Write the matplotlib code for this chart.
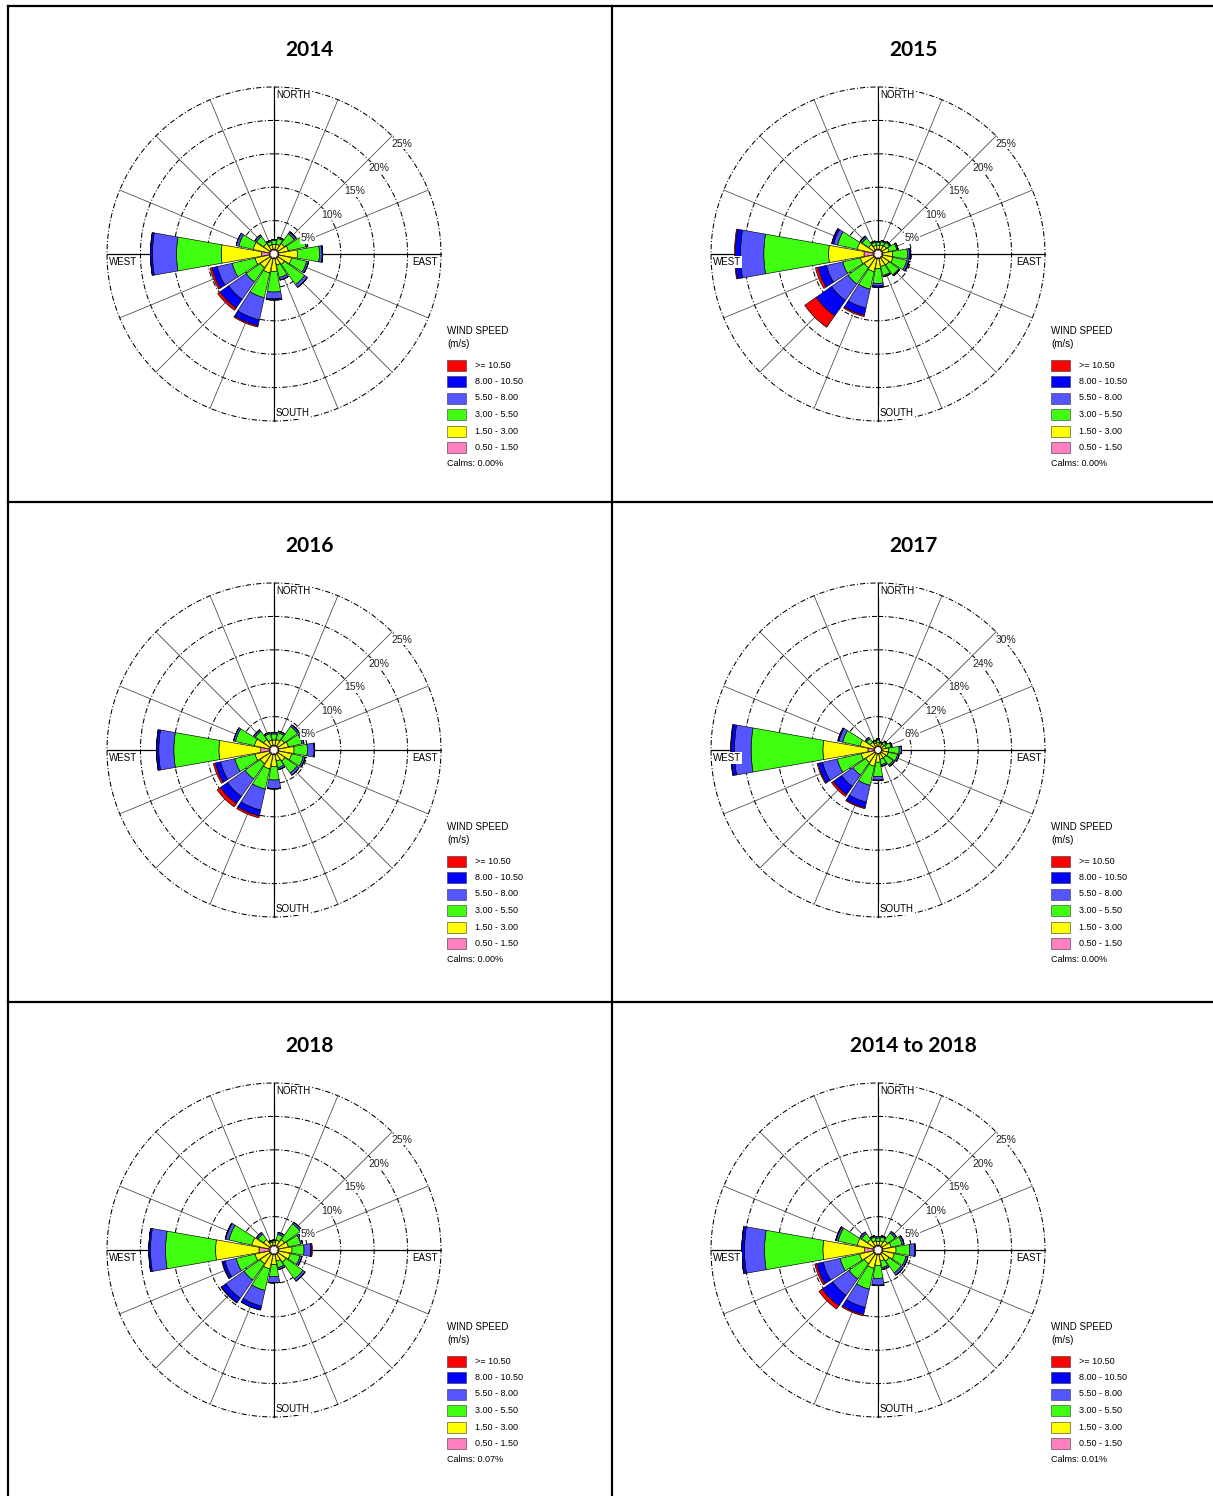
import numpy as np
import matplotlib
matplotlib.use('Agg')
import matplotlib.pyplot as plt
from matplotlib.lines import Line2D
from matplotlib.patches import Rectangle

W, H = 1213, 1496

directions = ['N', 'NNE', 'NE', 'ENE', 'E', 'ESE', 'SE', 'SSE',
              'S', 'SSW', 'SW', 'WSW', 'W', 'WNW', 'NW', 'NNW']
# speed classes, inner to outer
speed_classes = ['0.50 - 1.50', '1.50 - 3.00', '3.00 - 5.50',
                 '5.50 - 8.00', '8.00 - 10.50', '>= 10.50']
class_colors = ['#FF80C0', '#FFFF00', '#40FF10', '#5555FF', '#0000FF', '#FF0000']

# frequency (%) by direction, one list per speed class (same order as speed_classes)
freq_2014 = [
    [.3, .3, .3, .3, .3, .3, .3, .3, .3, .3, .3, .3, 1.5, .4, .3, .3],
    [.7, .8, 1.2, 1.5, 2.8, 2.0, 1.2, 1.0, 1.9, 2.2, 1.8, 2.2, 6.0, 2.4, 1.2, .7],
    [.6, .9, 1.8, 2.7, 3.3, 2.3, 3.7, 1.9, 3.1, 3.8, 2.6, 3.5, 6.7, 2.2, 1.3, .5],
    [.2, .2, .3, .3, .4, .3, .5, .4, 1.0, 3.4, 3.2, 2.3, 3.6, .4, .3, .2],
    [0, 0, .1, 0, .1, 0, 0, 0, .2, .9, 1.6, .8, .3, 0, 0, 0],
    [0, 0, 0, 0, 0, 0, 0, 0, 0, .2, .4, .3, 0, 0, 0, 0],
]
freq_2015 = [
    [.3, .3, .3, .3, .3, .3, .3, .3, .3, .3, .3, .3, 1.7, .4, .3, .3],
    [.6, .7, .8, 1.0, 1.5, 1.6, 1.3, 1.2, 1.5, 2.0, 1.8, 2.0, 5.3, 2.4, 1.0, .6],
    [.4, .5, .6, 1.2, 2.2, 2.1, 1.8, 1.4, 2.2, 2.7, 3.0, 2.7, 9.7, 3.0, 1.2, .5],
    [.2, .2, .2, .2, .3, .3, .2, .2, .4, 2.9, 3.0, 2.5, 3.5, .6, .3, .2],
    [0, 0, 0, 0, .2, .1, 0, 0, .2, 1.1, 2.8, 1.3, .75, .3, .1, 0],
    [0, 0, 0, 0, 0, 0, 0, 0, 0, .2, 2.1, .4, .15, 0, 0, 0],
]
freq_2016 = [
    [.3, .3, .3, .3, .3, .3, .3, .3, .3, .3, .3, .3, 1.6, .4, .3, .3],
    [.8, .9, 1.2, 1.5, 2.3, 2.0, 1.3, 1.0, 1.8, 2.2, 1.8, 2.2, 6.25, 2.2, 1.2, .8],
    [.9, 1.05, 2.4, 2.1, 2.0, 1.8, 2.2, 1.0, 2.0, 3.1, 2.8, 3.1, 6.75, 2.9, 1.5, 1.0],
    [.2, .25, .3, .3, 1.0, .3, .4, .3, 1.25, 3.2, 3.2, 2.2, 2.25, .3, .3, .2],
    [0, 0, 0, 0, .1, 0, 0, 0, .1, .9, 1.3, .8, .35, 0, 0, 0],
    [0, 0, 0, 0, 0, 0, 0, 0, 0, .3, .6, .3, 0, 0, 0, 0],
]
freq_2017 = [
    [.3, .3, .3, .3, .3, .3, .3, .3, .3, .3, .3, .3, 1.4, .3, .3, .3],
    [.6, .5, .6, .8, 1.2, 1.2, 1.0, 1.0, 1.5, 2.3, 2.0, 2.4, 8.1, 2.6, 1.0, .6],
    [.5, .2, .5, .9, 1.9, 1.7, 1.6, 1.0, 2.6, 3.5, 2.8, 4.4, 12.9, 3.2, .8, .3],
    [.2, .1, .2, .2, .4, .3, .3, .3, .6, 3.1, 2.5, 2.7, 3.0, .7, .3, .2],
    [0, 0, 0, 0, 0, 0, 0, 0, .1, 1.0, 1.8, .8, .6, .2, 0, 0],
    [0, 0, 0, 0, 0, 0, 0, 0, 0, .2, .4, .2, .1, 0, 0, 0],
]
freq_2018 = [
    [.3, .3, .3, .3, .3, .3, .3, .3, .3, .3, .3, .3, 1.85, .4, .3, .3],
    [.5, .8, 1.2, 1.5, 2.0, 1.8, 1.5, 1.0, 1.5, 2.2, 1.8, 2.2, 6.5, 2.6, 1.2, .5],
    [.2, .9, 2.9, 1.9, 1.8, 1.5, 3.1, 1.0, 1.8, 3.3, 3.0, 2.9, 7.5, 3.5, 1.0, .2],
    [.1, .3, .3, .3, 1.0, .3, .4, .3, .9, 2.4, 3.3, 1.7, 2.25, .5, .3, .1],
    [0, 0, 0, 0, .1, 0, 0, 0, 0, .6, .8, .4, .25, .1, 0, 0],
    [0, 0, 0, 0, .15, 0, 0, 0, 0, 0, .1, .1, 0, 0, 0, 0],
]
freq_all = [
    [.3, .3, .3, .3, .3, .3, .3, .3, .3, .3, .3, .3, 1.6, .4, .3, .3],
    [.6, .7, 1.0, 1.3, 2.0, 1.8, 1.3, 1.0, 1.6, 2.1, 1.8, 2.1, 6.25, 2.4, 1.2, .7],
    [.5, .6, 1.4, 1.7, 2.05, 1.8, 2.2, 1.0, 1.95, 3.2, 2.8, 3.0, 8.75, 2.9, 1.1, .6],
    [.2, .2, .3, .3, .75, .3, .4, .3, 1.0, 2.8, 3.0, 2.6, 3.0, .3, .3, .2],
    [0, 0, 0, 0, .1, 0, 0, 0, .1, 1.1, 1.9, 1.0, .4, .1, 0, 0],
    [0, 0, 0, 0, 0, 0, 0, 0, 0, .2, .6, .3, 0, 0, 0, 0],
]

titles = ['2014', '2015', '2016', '2017', '2018', '2014 to 2018']
panel_freqs = [freq_2014, freq_2015, freq_2016, freq_2017, freq_2018, freq_all]
ring_steps = [5, 5, 5, 6, 5, 5]
calms = ['0.00%', '0.00%', '0.00%', '0.00%', '0.07%', '0.01%']

col_x = [8, 612]
row_y = [6, 502, 1002]
R_PX = 167
CALM_R = 0.4

fig = plt.figure(figsize=(W / 100, H / 100), dpi=100)


def fx(x):
    return x / W


def fy(y):
    return 1 - y / H


# table borders (no right edge in the source)
for x in [8, 612]:
    fig.add_artist(Line2D([fx(x), fx(x)], [fy(6), fy(H)], color='black', lw=1.6))
for y in [6, 502, 1002]:
    fig.add_artist(Line2D([fx(8), fx(W)], [fy(y), fy(y)], color='black', lw=1.6))

theta = np.radians(np.arange(16) * 22.5)
circle_t = np.linspace(0, 2 * np.pi, 400)
txt_font = 'Liberation Sans'

for k in range(6):
    x0 = col_x[k % 2]
    y0 = row_y[k // 2]
    cx, cy = x0 + 266, y0 + 248
    step = ring_steps[k]
    rmax = step * 5

    fig.text(fx(x0 + 301), fy(y0 + 44), titles[k], ha='center', va='center',
             fontsize=15, fontweight='bold', family='Lato')

    ax = fig.add_axes([fx(cx - R_PX), fy(cy + R_PX), 2 * R_PX / W, 2 * R_PX / H],
                      projection='polar')
    ax.set_theta_zero_location('N')
    ax.set_theta_direction(-1)
    ax.set_ylim(0, rmax)
    ax.grid(False)
    ax.set_xticks([])
    ax.set_yticks([])
    ax.spines['polar'].set_visible(False)
    ax.patch.set_alpha(0)

    # rings and spokes
    for i in range(1, 6):
        ax.plot(circle_t, np.full_like(circle_t, i * step), color='black',
                lw=0.75, ls=(0, (5, 2, 1, 2)), zorder=1, clip_on=False)
    for i, t in enumerate(theta):
        main = i % 4 == 0
        ax.plot([t, t], [0, rmax], color='black' if main else '#444444',
                lw=0.9 if main else 0.55, zorder=1, clip_on=False)

    # stacked bars
    freqs = panel_freqs[k]
    bottom = np.full(16, CALM_R)
    for vals, col in zip(freqs, class_colors):
        vals = np.array(vals)
        ax.bar(theta, vals, width=np.radians(20), bottom=bottom, color=col,
               edgecolor='black', linewidth=0.45, zorder=3)
        bottom = bottom + vals
    ax.plot(circle_t, np.full_like(circle_t, CALM_R), color='black', lw=0.5, zorder=4)
    ax.fill(circle_t, np.full_like(circle_t, CALM_R), color='white', zorder=4)

    # ring labels
    for i in range(1, 6):
        ax.annotate(f'{i * step}%', xy=(np.radians(45), i * step), xytext=(10, -8),
                    textcoords='offset pixels', ha='center', va='center',
                    fontsize=7.5, family=txt_font, color='#222222', zorder=5,
                    bbox=dict(facecolor='white', edgecolor='none', pad=0.3))

    # compass labels
    lab_kw = dict(textcoords='offset pixels', fontsize=7, family=txt_font, zorder=5,
                  bbox=dict(facecolor='white', edgecolor='none', pad=0.5))
    ax.annotate('NORTH', xy=(0, rmax), xytext=(2, -3), ha='left', va='top', **lab_kw)
    ax.annotate('SOUTH', xy=(np.pi, rmax), xytext=(2, 3), ha='left', va='bottom', **lab_kw)
    ax.annotate('EAST', xy=(np.pi / 2, rmax), xytext=(-3, -3), ha='right', va='top', **lab_kw)
    ax.annotate('WEST', xy=(3 * np.pi / 2, rmax), xytext=(2, -3), ha='left', va='top', **lab_kw)

    # legend
    lx = x0 + 439
    fig.text(fx(lx), fy(y0 + 325), 'WIND SPEED', ha='left', va='center',
             fontsize=7, family=txt_font)
    fig.text(fx(lx), fy(y0 + 338), '(m/s)', ha='left', va='center',
             fontsize=7, family=txt_font)
    for j in range(6):
        ci = 5 - j
        yc = y0 + 359 + j * 16.5
        fig.add_artist(Rectangle((fx(lx), fy(yc + 5.5)), 19 / W, 11 / H,
                                 facecolor=class_colors[ci], edgecolor='#333333', lw=0.4))
        fig.text(fx(lx + 28), fy(yc), speed_classes[ci], ha='left', va='center',
                 fontsize=6.5, family=txt_font)
    fig.text(fx(lx), fy(y0 + 458), f'Calms: {calms[k]}', ha='left', va='center',
             fontsize=6.5, family=txt_font)

fig.savefig('out.png', dpi=100)
